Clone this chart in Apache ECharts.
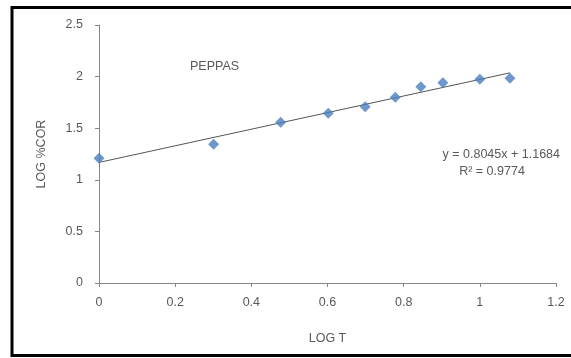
<!DOCTYPE html>
<html>
<head>
<meta charset="utf-8">
<script src="https://cdn.jsdelivr.net/npm/echarts@6/dist/echarts.min.js"></script>
<style>
  html, body { margin: 0; padding: 0; background: #fff; }
  #chart { width: 571px; height: 358px; }
</style>
</head>
<body>
<div id="chart"></div>
<script>
// log10 of sampling time and log10 of cumulative % drug release
const logT = [0, 0.301, 0.477, 0.602, 0.699, 0.778, 0.845, 0.903, 1.0, 1.079];
const logCDR = [1.208, 1.344, 1.557, 1.644, 1.709, 1.799, 1.902, 1.941, 1.974, 1.983];

// linear trendline fitted to the points
const slope = 0.8045;
const intercept = 1.1684;
const rSquared = 0.9774;

const xTicks = [0, 0.2, 0.4, 0.6, 0.8, 1, 1.2];
const yTicks = [0, 0.5, 1, 1.5, 2, 2.5];

const points = logT.map((x, i) => [x, logCDR[i]]);
const xEnd = logT[logT.length - 1];
const trend = [[0, intercept], [xEnd, intercept + slope * xEnd]];

const textColor = '#595959';
const axisColor = '#868686';
const font = 'Liberation Sans';
const fs = 12.5;
const cssFont = fs + 'px "Liberation Sans"';

const chart = echarts.init(document.getElementById('chart'));
chart.setOption({
  animation: false,
  backgroundColor: '#fff',
  textStyle: { fontFamily: font },
  grid: { left: 99, right: 15, top: 25, bottom: 75 },
  xAxis: {
    type: 'value',
    min: xTicks[0], max: xTicks[xTicks.length - 1], interval: 0.2,
    name: 'LOG T', nameLocation: 'middle', nameGap: 49,
    nameTextStyle: { color: textColor, fontSize: fs, fontFamily: font },
    axisLine: { show: true, onZero: false, lineStyle: { color: axisColor, width: 1 } },
    axisTick: { show: true, length: 4, lineStyle: { color: axisColor } },
    axisLabel: { color: textColor, fontSize: fs, margin: 13, fontFamily: font },
    splitLine: { show: false }
  },
  yAxis: {
    type: 'value',
    min: yTicks[0], max: yTicks[yTicks.length - 1], interval: 0.5,
    name: 'LOG %COR', nameLocation: 'middle', nameGap: 51,
    nameTextStyle: { color: textColor, fontSize: fs, fontFamily: font },
    axisLine: { show: true, onZero: false, lineStyle: { color: axisColor, width: 1 } },
    axisTick: { show: true, length: 4, lineStyle: { color: axisColor } },
    axisLabel: { color: textColor, fontSize: fs, margin: 16, fontFamily: font },
    splitLine: { show: false }
  },
  series: [
    {
      type: 'line',
      data: trend,
      symbol: 'none',
      lineStyle: { color: '#555555', width: 1 },
      z: 2
    },
    {
      type: 'scatter',
      data: points,
      symbol: 'diamond',
      symbolSize: [11, 11],
      itemStyle: { color: '#4A7EBB' },
      z: 3
    }
  ],
  graphic: [
    {
      type: 'rect',
      shape: { x: 12, y: 7.5, width: 570, height: 348 },
      style: { fill: 'none', stroke: '#000', lineWidth: 3 },
      silent: true
    },
    {
      type: 'text', left: 190, top: 60,
      style: { text: 'PEPPAS', fill: textColor, font: cssFont }
    },
    {
      type: 'text', x: 560, y: 155,
      style: { text: 'y = ' + slope + 'x + ' + intercept, fill: textColor, font: cssFont, textAlign: 'right', textVerticalAlign: 'middle' }
    },
    {
      type: 'text', x: 492, y: 172,
      style: { text: 'R\u00B2 = ' + rSquared, fill: textColor, font: cssFont, textAlign: 'center', textVerticalAlign: 'middle' }
    }
  ]
});
</script>
</body>
</html>
